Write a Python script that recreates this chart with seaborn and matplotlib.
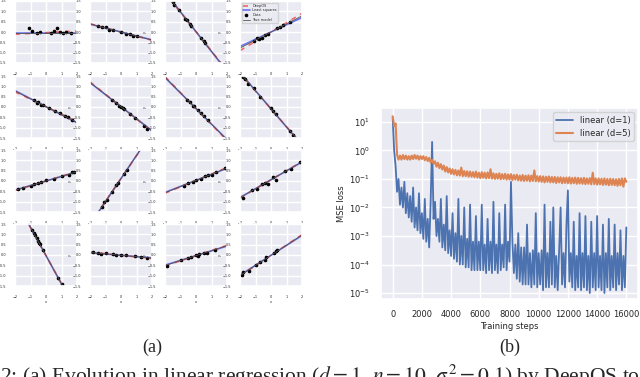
import numpy as np
import seaborn as sns
import matplotlib.pyplot as plt

sns.set_theme(style="darkgrid")
plt.rcParams['mathtext.fontset'] = 'stix'
plt.rcParams['path.simplify'] = False

### Loss curves (log10 of MSE loss, one value every 100 steps).
steps = np.arange(0, 16001, 100)
loss_d1_log = [
    1.15, 0.0, -0.55, -1.45, -1.0, -1.9, -1.3, -2.0, -1.1, -2.2,
    -1.5, -2.35, -1.6, -2.5, -1.3, -2.7, -2.0, -2.8, -1.5, -2.9,
    -2.2, -3.1, -1.7, -3.2, -2.4, -3.4, -1.8, 0.3, -2.4, -1.8,
    -3.0, -2.4, -3.2, -1.7, -3.4, -2.6, -3.5, -1.6, -3.6, -2.8,
    -3.7, -2.2, -3.8, -2.9, -3.9, -1.7, -4.0, -3.0, -4.0, -2.0,
    -4.1, -3.1, -4.1, -1.9, -4.2, -3.2, -4.2, -2.3, -4.2, -3.2,
    -4.2, -1.9, -4.2, -3.3, -4.3, -2.4, -4.2, -3.2, -4.3, -1.8,
    -4.2, -3.3, -4.3, -2.2, -4.2, -3.3, -4.1, -1.9, -4.2, -3.2,
    -3.9, -1.1, -3.2, -4.3, -3.3, -4.5, -2.9, -4.6, -3.4, -4.7,
    -3.4, -4.7, -2.6, -4.7, -3.6, -4.8, -3.5, -4.7, -2.2, -4.8,
    -3.6, -4.7, -3.5, -4.9, -1.9, -4.8, -3.6, -4.8, -2.5, -4.7,
    -2.0, -4.8, -3.7, -4.9, -3.5, -2.0, -4.7, -3.6, -4.8, -2.6,
    -1.4, -4.6, -3.6, -4.8, -2.5, -4.9, -3.7, -4.8, -2.2, -4.9,
    -3.6, -4.8, -2.3, -4.9, -3.7, -5.0, -2.5, -4.8, -3.6, -4.9,
    -2.3, -4.8, -3.7, -4.9, -2.6, -5.0, -3.6, -4.8, -2.4, -4.9,
    -3.7, -4.8, -2.6, -4.9, -3.6, -4.7, -2.8, -4.9, -3.7, -4.8,
    -2.7,
]
loss_d5_log = [
    1.2, 0.85, 0.95, -0.15, -0.32, -0.18, -0.32, -0.16, -0.3, -0.18,
    -0.32, -0.2, -0.32, -0.18, -0.3, -0.16, -0.29, -0.18, -0.32, -0.2,
    -0.3, -0.2, -0.34, -0.23, -0.37, -0.26, -0.42, -0.33, -0.47, -0.38,
    -0.57, -0.43, -0.62, -0.48, -0.67, -0.53, -0.74, -0.58, -0.77, -0.63,
    -0.82, -0.66, -0.84, -0.68, -0.87, -0.7, -0.88, -0.6, -0.9, -0.72,
    -0.9, -0.73, -0.92, -0.74, -0.92, -0.76, -0.94, -0.74, -0.95, -0.78,
    -0.97, -0.76, -0.96, -0.78, -0.98, -0.77, -0.97, -0.66, -0.99, -0.8,
    -1.0, -0.82, -0.99, -0.8, -1.01, -0.83, -1.0, -0.82, -1.02, -0.84,
    -1.02, -0.83, -1.04, -0.86, -1.02, -0.85, -1.05, -0.88, -1.06, -0.86,
    -1.07, -0.88, -1.06, -0.87, -1.08, -0.88, -1.07, -0.7, -1.08, -0.9,
    -1.09, -0.9, -1.1, -0.91, -1.12, -0.92, -1.1, -0.91, -1.12, -0.93,
    -1.12, -0.93, -1.14, -0.94, -1.12, -0.94, -1.15, -0.95, -1.14, -0.95,
    -1.15, -0.94, -1.16, -0.96, -1.15, -0.95, -1.17, -0.96, -1.16, -0.97,
    -1.17, -0.96, -1.18, -0.98, -1.17, -0.97, -1.19, -0.78, -1.18, -0.98,
    -1.2, -0.98, -1.19, -0.99, -1.21, -0.98, -1.2, -1.0, -1.22, -0.99,
    -1.21, -1.0, -1.22, -1.01, -1.24, -1.0, -1.22, -0.98, -1.27, -0.98,
    -1.1,
]

### Small regression panels (4 x 4).
true_slopes = [0.0, -0.195, -0.95, 0.39,
               -0.38, -0.59, -0.76, -0.87,
               0.225, 1.11, 0.3, 0.435,
               -1.365, -0.07, 0.24, 0.49]
true_icpts = [-0.03, 0.0, 0.015, 0.0,
              0.015, 0.015, -0.075, -0.09,
              0.0, 0.12, 0.03, 0.06,
              -0.03, -0.015, -0.03, -0.015]
red_slopes = [0.04, -0.2, -0.94, 0.45,
              -0.36, -0.6, -0.77, -0.86,
              0.23, 1.1, 0.31, 0.44,
              -1.36, -0.08, 0.25, 0.5]
blue_slopes = [0.0, -0.19, -0.96, 0.35,
               -0.39, -0.58, -0.75, -0.88,
               0.22, 1.12, 0.29, 0.43,
               -1.37, -0.06, 0.23, 0.48]
pts_x = [
    [-1.1, -0.9, -0.6, -0.4, 0.3, 0.5, 0.7, 0.9, 1.1, 1.3, 1.6],
    [-1.5, -1.2, -1.0, -0.8, -0.5, 0.0, 0.3, 0.6, 0.8, 1.0],
    [-1.5, -1.4, -1.1, -0.7, -0.6, -0.4, -0.3, 0.3, 0.5, 0.6],
    [-1.1, -0.9, -0.8, -0.6, -0.4, -0.2, 0.4, 0.6, 0.8, 1.2],
    [-0.8, -0.6, -0.5, -0.3, -0.2, 0.2, 0.6, 0.9, 1.2, 1.4, 1.7],
    [-0.6, -0.3, -0.1, 0.0, 0.1, 0.2, 0.6, 0.9, 1.5, 1.7],
    [-0.6, -0.4, -0.2, -0.1, 0.1, 0.3, 0.5, 0.8],
    [-1.8, -1.7, -1.5, -1.1, -0.7, 0.0, 0.1, 0.3, 1.2, 1.4],
    [-1.8, -1.5, -1.0, -0.8, -0.5, -0.3, 0.0, 0.5, 1.0, 1.5, 1.7, 1.8],
    [-1.2, -1.1, -0.9, -0.6, -0.3, -0.2, 0.2, 0.4],
    [-0.8, -0.5, -0.2, 0.0, 0.3, 0.6, 0.8, 1.0, 1.3, 1.9],
    [-1.8, -1.2, -0.9, -0.6, -0.4, -0.2, 0.1, 0.3, 0.9, 1.3, 1.9],
    [-0.9, -0.8, -0.7, -0.6, -0.5, -0.45, -0.4, -0.2, 0.8, 1.0],
    [-1.8, -1.5, -1.3, -1.0, -0.5, -0.3, 0.0, 0.3, 0.9, 1.3, 1.7],
    [-1.9, -1.0, -0.5, -0.3, 0.0, 0.1, 0.2, 0.5, 0.7, 1.2],
    [-1.9, -1.8, -1.4, -1.0, -0.7, -0.4, -0.3, 0.2, 0.3, 0.4],
]
pts_y = [
    [0.18, 0.05, -0.05, 0.0, -0.05, 0.05, 0.2, 0.02, -0.03, 0.0, -0.04],
    [0.3, 0.25, 0.25, 0.12, 0.12, 0.0, -0.08, -0.1, -0.18, -0.2],
    [1.45, 1.3, 1.05, 0.62, 0.6, 0.4, 0.3, -0.3, -0.45, -0.55],
    [-0.45, -0.3, -0.35, -0.28, -0.15, -0.1, 0.2, 0.25, 0.32, 0.48],
    [0.35, 0.2, 0.25, 0.1, 0.12, -0.05, -0.2, -0.3, -0.45, -0.5, -0.65],
    [0.35, 0.2, 0.05, 0.02, -0.05, -0.1, -0.35, -0.55, -0.9, -1.05],
    [0.35, 0.25, 0.05, 0.05, -0.15, -0.3, -0.45, -0.65],
    [1.45, 1.35, 1.1, 0.9, 0.5, -0.05, -0.2, -0.35, -1.15, -1.35],
    [-0.4, -0.35, -0.25, -0.15, -0.12, -0.05, 0.05, 0.08, 0.25, 0.3, 0.45, 0.42],
    [-1.25, -1.0, -0.9, -0.55, -0.2, -0.1, 0.35, 0.55],
    [-0.22, -0.12, -0.05, 0.03, 0.1, 0.22, 0.3, 0.3, 0.45, 0.65],
    [-0.8, -0.45, -0.4, -0.15, -0.1, -0.15, 0.2, 0.05, 0.5, 0.6, 0.9],
    [1.2, 1.05, 0.95, 0.8, 0.7, 0.6, 0.55, 0.25, -1.1, -1.4],
    [0.15, 0.12, 0.05, 0.1, 0.05, 0.02, 0.02, 0.0, -0.05, -0.08, -0.15],
    [-0.55, -0.25, -0.15, -0.1, 0.0, -0.05, 0.05, 0.1, 0.1, 0.25],
    [-0.95, -0.8, -0.75, -0.5, -0.35, -0.25, -0.1, 0.1, 0.2, 0.25],
]
legend_labels = ['DeepOS', 'Least squares', 'Data', 'True model']

W, H = 640, 377
fig = plt.figure(figsize=(6.4, 3.77), dpi=100)

### (a) grid of small panels.
col_left = [15, 90, 165, 240]
row_top = [1, 76, 150, 224]
pw, ph = 62, 62
xs = np.array([-2.0, 2.0])
for i in range(16):
    r, c = divmod(i, 4)
    ax = fig.add_axes([col_left[c] / W, (H - row_top[r] - ph) / H, pw / W, ph / H])
    b = true_icpts[i]
    ax.plot(xs, blue_slopes[i] * xs + b, color='#3344ee', alpha=0.7, lw=1.2, label=legend_labels[1])
    ax.plot(xs, red_slopes[i] * xs + b, color='#ee3333', alpha=0.7, lw=1.2, dashes=(3, 3),
            label=legend_labels[0])
    ax.plot(pts_x[i], pts_y[i], 'o', color='black', ms=1.6, label=legend_labels[2])
    ax.plot(xs, true_slopes[i] * xs + b, color='#555555', lw=0.6, label=legend_labels[3])
    ax.set_xlim(-2, 2)
    ax.set_ylim(-1.5, 1.5)
    ax.set_xticks([-2, -1, 0, 1, 2])
    ax.set_yticks([-1.5, -1.0, -0.5, 0.0, 0.5, 1.0, 1.5])
    ax.tick_params(labelsize=2.5, pad=0.5)
    ax.set_xlabel('x', fontsize=2.5, labelpad=0.5)
    ax.set_ylabel('y', fontsize=2.5, labelpad=0.5)
    if i == 3:
        h, l = ax.get_legend_handles_labels()
        ax.legend([h[1], h[0], h[2], h[3]], [l[1], l[0], l[2], l[3]], loc='upper left',
                  fontsize=2.5, frameon=True, handlelength=2, borderpad=0.3, labelspacing=0.2)

### (b) loss curves.
ax = fig.add_axes([381 / W, (H - 299) / H, 257 / W, 191 / H])
sns.lineplot(x=steps, y=10.0 ** np.array(loss_d1_log), ax=ax, color='#4C72B0', lw=1.3,
             label='linear (d=1)')
sns.lineplot(x=steps, y=10.0 ** np.array(loss_d5_log), ax=ax, color='#DD8452', lw=1.5,
             label='linear (d=5)')
ax.set_yscale('log')
ax.set_ylim(10 ** -5.21, 10 ** 1.49)
ax.set_xlim(-800, 16800)
ax.set_xticks(range(0, 16001, 2000))
ax.tick_params(labelsize=6, pad=2)
ax.minorticks_off()
ax.set_xlabel('Training steps', fontsize=6, labelpad=2)
ax.set_ylabel('MSE loss', fontsize=6, labelpad=2)
ax.legend(loc='upper right', fontsize=6)

### Sub-captions and the (cut off) figure caption.
fig.text(152 / W, (H - 347) / H, '(a)', fontsize=13, family='Liberation Serif',
         ha='center', va='center')
fig.text(510 / W, (H - 347) / H, '(b)', fontsize=13, family='Liberation Serif',
         ha='center', va='center')
fig.text(0.0, (H - 383) / H,
         r'2: (a) Evolution in linear regression ($d = 1$, $n = 10$, $\sigma^2 = 0.1$) by DeepOS to',
         fontsize=15.5, family='Liberation Serif', ha='left', va='baseline')

plt.savefig('out.png', dpi=100)
